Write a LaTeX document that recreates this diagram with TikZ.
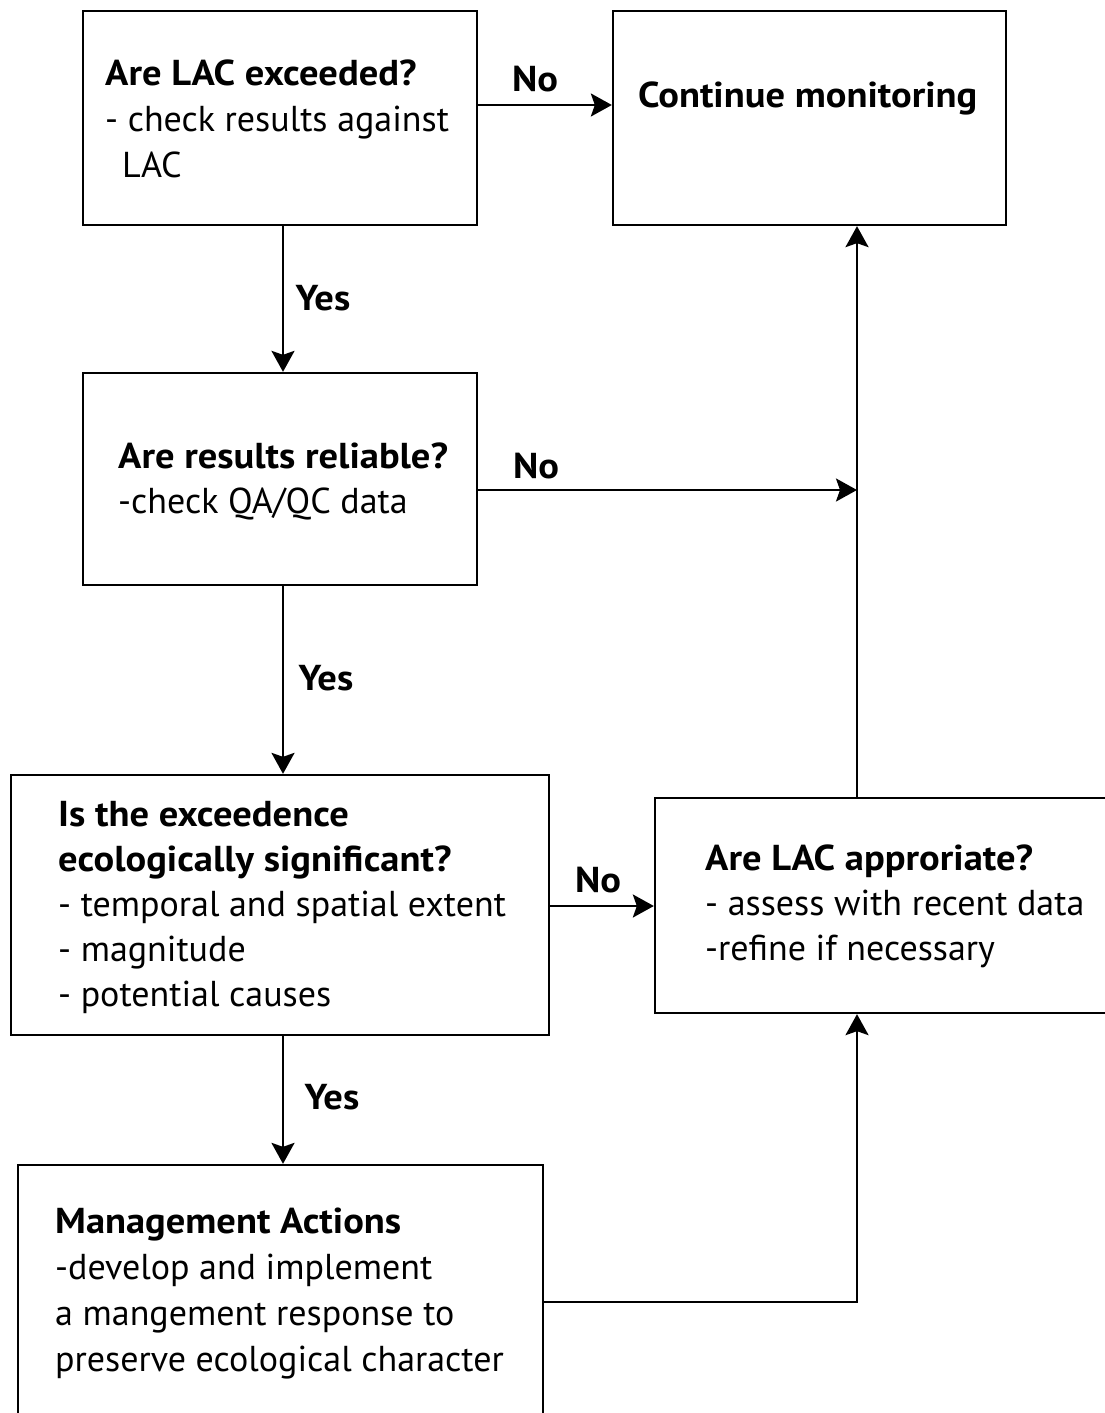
\documentclass[tikz,border=0pt]{standalone}
\usepackage{fontspec}
\setmainfont{PT Sans}[BoldFeatures={FakeStretch=1.07}]
\usetikzlibrary{arrows.meta}
\begin{document}
\begin{tikzpicture}[x=1pt,y=-1pt,
  box/.style={draw, line width=2.3pt, inner sep=0pt, fill=none},
  txtA/.style={anchor=north west, inner sep=0pt, align=left, font=\fontsize{36}{46}\selectfont},
  txtB/.style={anchor=north west, inner sep=0pt, align=left, font=\fontsize{36}{45}\selectfont},
  lbl/.style={anchor=base, inner sep=0pt, font=\fontsize{36}{45}\selectfont\bfseries},
  arr/.style={line width=2.3pt, -{Stealth[length=21pt,width=23pt,inset=4pt]}}]
\useasboundingbox (0,0) rectangle (1105,1413);
\fill[white] (0,0) rectangle (1105,1413);
\clip (0,0) rectangle (1105,1413);
% boxes
\node[box, minimum width=394pt, minimum height=214pt] (b1) at (280,118) {};
\node[box, minimum width=393pt, minimum height=214pt] (b2) at (809.5,118) {};
\node[box, minimum width=394pt, minimum height=212pt] (b3) at (280,479) {};
\node[box, minimum width=538pt, minimum height=260pt] (b4) at (280,905) {};
\node[box, minimum width=470pt, minimum height=215pt] (b5) at (890,905.5) {};
\node[box, minimum width=525pt, minimum height=280pt] (b6) at (280.5,1305) {};
% texts
\node[txtA] (t1) at (105,52.8) {\strut\textbf{Are LAC exceeded?}\\- check results against\\\hspace*{17pt}LAC};
\node[anchor=base west, inner sep=0pt, font=\fontsize{36}{45}\selectfont\bfseries] (t2) at (638,107) {Continue monitoring};
\node[txtB] (t3) at (118,436.5) {\strut\textbf{Are results reliable?}\\-check QA/QC data};
\node[txtB] (t4) at (58,794.5) {\strut\textbf{Is the exceedence}\\\textbf{ecologically significant?}\\- temporal and spatial extent\\- magnitude\\- potential causes};
\node[txtB] (t5) at (705,838.5) {\strut\textbf{Are LAC approriate?}\\- assess with recent data\\-refine if necessary};
\node[txtA] (t6) at (55,1200.8) {\strut\textbf{Management Actions}\\-develop and implement\\a mangement response to\\preserve ecological character};
% helper coordinates
\coordinate (col) at (857,0);
\coordinate (vx) at (283,0);
\coordinate (r1) at (0,105);
\coordinate (r3) at (0,490);
\coordinate (r5) at (0,906);
\coordinate (r6) at (0,1302);
% connectors
\draw[arr] (b1.east |- r1) -- (b2.west |- r1);
\draw[arr] (b1.south -| vx) -- (b3.north -| vx);
\draw[arr] (b3.east |- r3) -- (col |- r3);
\draw[arr] (b3.south -| vx) -- (b4.north -| vx);
\draw[arr] (b4.east |- r5) -- (b5.west |- r5);
\draw[arr] (b4.south -| vx) -- (b6.north -| vx);
\draw[arr] (b5.north -| col) -- (b2.south -| col);
\draw[arr] (b6.east |- r6) -| (b5.south -| col);
% labels
\node[lbl] (n1) at (535,92) {No};
\node[lbl] (y1) at (323,310) {Yes};
\node[lbl] (n2) at (536,478) {No};
\node[lbl] (y2) at (326,690) {Yes};
\node[lbl] (n3) at (598,892) {No};
\node[lbl] (y3) at (332,1109) {Yes};
\end{tikzpicture}
\end{document}
